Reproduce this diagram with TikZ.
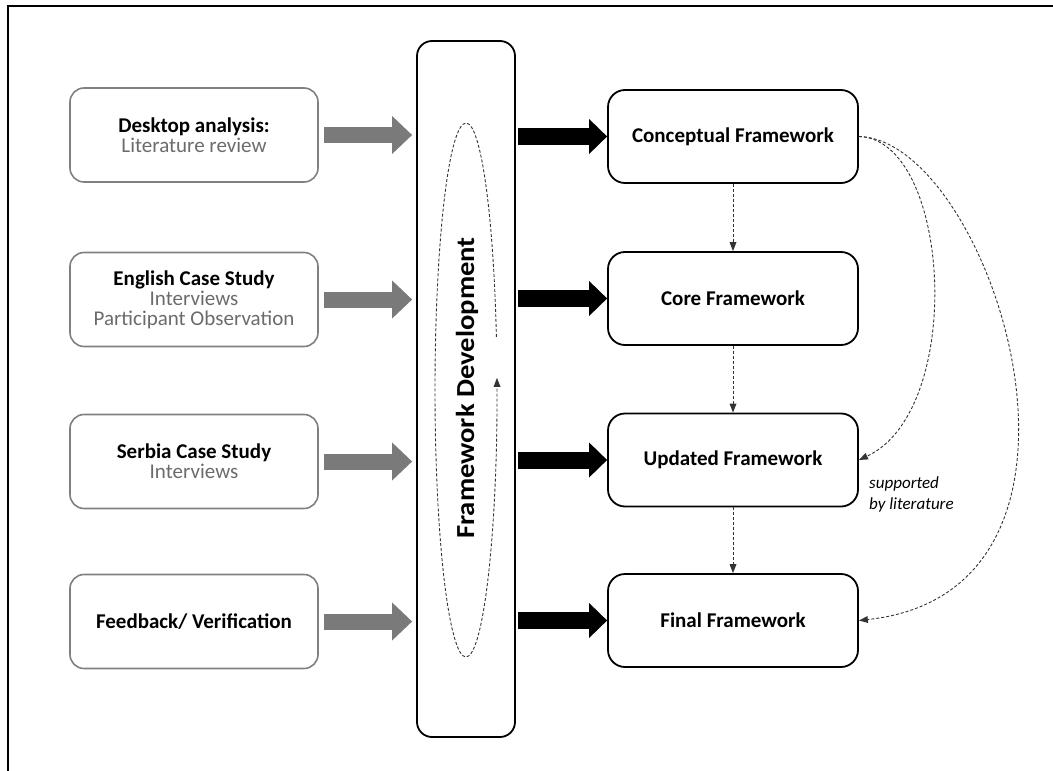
\documentclass[tikz,border=0pt]{standalone}
\usepackage{fontspec}
\setmainfont{Carlito}
\newfontfamily\widefont[FakeStretch=1.1]{Carlito}
\usetikzlibrary{arrows.meta,calc}

\begin{document}
\begin{tikzpicture}[x=1pt,y=-1pt,
  lbox/.style={draw=black!50, line width=1.6pt, rounded corners=14pt,
    minimum width=248pt, minimum height=94pt, align=center, inner sep=0pt,
    font=\fontsize{21}{20}\selectfont},
  rbox/.style={draw=black, line width=1.8pt, rounded corners=17pt,
    minimum width=250pt, minimum height=93pt, align=center, inner sep=0pt,
    font=\fontsize{21}{20}\selectfont\bfseries},
  garrow/.style={draw=black!52, line width=16pt,
    -{Triangle[length=20pt,width=38pt,line width=0pt]}},
  karrow/.style={draw=black, line width=17pt,
    -{Triangle[length=18pt,width=35pt,line width=0pt]}},
  dsh/.style={draw=black!80, line width=0.9pt, dash pattern=on 3pt off 2pt},
  tip/.style={-{Triangle[length=9pt,width=7pt,line width=0pt]}}
]
\useasboundingbox (0,0) rectangle (1053,771);

% outer frame
\draw[line width=2.5pt] (8,771) -- (8,6) -- (1053,6);

% input boxes
\node[lbox] (l1) at (194,135) {{\bfseries Desktop analysis:}\\{\color{black!58}Literature review}};
\node[lbox] (l2) at (194,299.5) {{\bfseries English Case Study}\\{\color{black!58}Interviews}\\{\color{black!58}Participant Observation}};
\node[lbox] (l3) at (194,461.5) {{\bfseries Serbia Case Study}\\{\color{black!58}Interviews}};
\node[lbox] (l4) at (194,621.5) {\bfseries Feedback/ Verification};

% central development column
\node[draw, line width=1.8pt, rounded corners=15pt, minimum width=98pt,
  minimum height=696pt, inner sep=0pt] (fd) at (466,389) {};
\node[rotate=90, inner sep=0pt, font=\widefont\fontsize{26}{30}\selectfont\bfseries]
  (fdt) at (467,388) {Framework Development};

% iterative loop
\coordinate (ec) at (466,390);
\draw[dsh, tip] ($(ec)+(-11.5:31 and 267)$)
  arc[start angle=-11.5, end angle=-362.6, x radius=31, y radius=267];

% framework stages
\node[rbox] (c)   at (733,136.5) {Conceptual Framework};
\node[rbox] (cor) at (733,298.5) {Core Framework};
\node[rbox] (upd) at (733,460)   {Updated Framework};
\node[rbox] (fin) at (733,620.5) {Final Framework};

% inputs into the development column
\foreach \n in {l1,l2,l3,l4}
  \draw[garrow] ($(\n.east)+(5,0)$) -- ($(fd.west|-\n.east)+(-4,0)$);

% development column into stages
\foreach \n in {c,cor,upd,fin}
  \draw[karrow] ($(fd.east|-\n.west)+(2,0)$) -- (\n.west);

% stage sequence
\draw[dsh, tip] (c) -- (cor);
\draw[dsh, tip] (cor) -- (upd);
\draw[dsh, tip] (upd) -- (fin);

% literature support
\draw[dsh, tip] (c.east) .. controls +(92,3) and +(107,-50) .. (upd.east);
\draw[dsh, tip] (c.east) .. controls +(132,3) and +(277,-30) .. (fin.east);
\node[anchor=base west, inner sep=0pt, align=left,
  font=\fontsize{17}{21}\selectfont\itshape] (sup) at (869,509) {supported\\by literature};
\end{tikzpicture}
\end{document}
